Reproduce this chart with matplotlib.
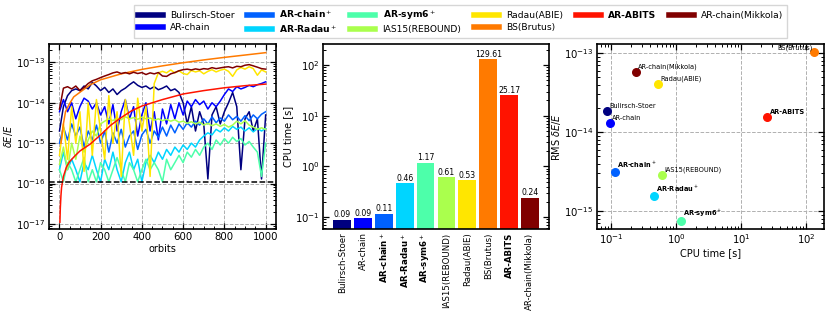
import numpy as np
import matplotlib
matplotlib.use("Agg")
import matplotlib.pyplot as plt

methods = ["Bulirsch-Stoer", "AR-chain", "AR-chain$^+$", "AR-Radau$^+$", "AR-sym6$^+$",
           "IAS15(REBOUND)", "Radau(ABIE)", "BS(Brutus)", "AR-ABITS", "AR-chain(Mikkola)"]
bold = [False, False, True, True, True, False, False, False, True, False]
cpu_time = [0.087, 0.094, 0.114, 0.46, 1.17, 0.61, 0.53, 129.61, 25.17, 0.24]
cpu_labels = ["0.09", "0.09", "0.11", "0.46", "1.17", "0.61", "0.53", "129.61", "25.17", "0.24"]
rms_err = [1.83e-14, 1.29e-14, 3.15e-15, 1.55e-15, 7.6e-16, 2.86e-15, 4.1e-14, 1.02e-13, 1.55e-14, 5.75e-14]

orbits = [1, 20, 40, 60, 80, 100, 120, 140, 160, 180, 200, 220, 240, 260, 280, 300, 320, 340, 360, 380,
          400, 420, 440, 460, 480, 500, 520, 540, 560, 580, 600, 620, 640, 660, 680, 700, 720, 740, 760,
          780, 800, 820, 840, 860, 880, 900, 920, 940, 960, 980, 1000]

err_bs = [2e-15, 8e-15, 1.5e-14, 2.0e-14, 2.2e-14, 2.0e-14, 2.6e-14, 2.2e-14, 3.2e-14, 2.6e-14, 2.0e-14,
          2.4e-14, 1.8e-14, 2.2e-14, 1.6e-14, 2.0e-14, 2.3e-14, 2.8e-14, 3.3e-14, 2.7e-14, 2.4e-14,
          2.6e-14, 2.2e-14, 2.5e-14, 2.1e-14, 2.3e-14, 2.6e-14, 2.0e-14, 2.2e-14, 1.8e-14, 1.0e-14,
          3e-15, 8e-15, 2e-15, 6e-15, 3e-15, 1.3e-16, 5e-15, 8e-15, 3e-15, 6e-15, 1e-14, 1.8e-14,
          8e-15, 2.2e-16, 4e-15, 6e-15, 2e-15, 4e-15, 1.3e-16, 5e-15]
err_arc = [6e-15, 1.2e-14, 6e-15, 1.0e-14, 4e-15, 8e-15, 1.3e-14, 1.1e-14, 7e-15, 1.0e-14, 5e-15,
           8e-15, 3e-15, 9e-15, 2e-15, 6e-15, 1.2e-14, 4e-15, 8e-15, 1.5e-15, 5e-15, 1e-14, 2e-15,
           6e-15, 1.2e-15, 7e-15, 3e-15, 9e-15, 4e-15, 1e-14, 5e-15, 1.1e-14, 8e-15, 1.2e-14, 9e-15,
           1.1e-14, 7e-15, 1e-14, 8e-15, 1.1e-14, 1.6e-14, 2.2e-14, 1.9e-14, 2.5e-14, 2.2e-14,
           2.4e-14, 2.7e-14, 2.5e-14, 2.8e-14, 3.0e-14, 3.3e-14]
err_arcp = [1e-15, 2.5e-15, 1.2e-15, 3e-15, 1.5e-15, 2.5e-15, 8e-16, 2e-15, 1.2e-15, 2.8e-15, 1e-15,
            2e-15, 6e-16, 1.8e-15, 1e-15, 2.2e-15, 8e-16, 1.5e-15, 2e-15, 7e-16, 1.6e-15, 2.2e-15,
            1e-15, 2e-15, 1.4e-15, 2.5e-15, 1.5e-15, 2.8e-15, 1.8e-15, 3e-15, 2.2e-15, 3.2e-15,
            2.5e-15, 3.5e-15, 2.8e-15, 4e-15, 3e-15, 4.5e-15, 3.2e-15, 4.2e-15, 3.5e-15, 5e-15,
            3.8e-15, 4.6e-15, 3.5e-15, 4.8e-15, 3.6e-15, 5e-15, 4e-15, 5.2e-15, 6e-15]
err_arr = [2.2e-16, 6e-16, 2.2e-16, 4e-16, 2.2e-16, 1.1e-16, 3.3e-16, 2.2e-16, 5e-16, 2.2e-16, 1.1e-16,
           4e-16, 2.2e-16, 6e-16, 2.2e-16, 1.1e-16, 3.3e-16, 6e-16, 2.2e-16, 4e-16, 1.1e-16, 3.3e-16,
           5e-16, 3.3e-16, 6e-16, 4e-16, 7e-16, 5e-16, 8e-16, 6e-16, 9e-16, 7e-16, 1e-15, 8e-16,
           1.2e-15, 1.5e-15, 1.8e-15, 1.6e-15, 2.2e-15, 1.9e-15, 2.4e-15, 2e-15, 2.6e-15, 2.2e-15,
           2.5e-15, 2e-15, 2.4e-15, 1.9e-15, 2.3e-15, 2e-15, 2.3e-15]
err_sym6 = [2.2e-16, 1.1e-16, 3.3e-16, 2.2e-16, 1.1e-16, 2.2e-16, 4.4e-16, 1.1e-16, 2.2e-16, 1.1e-16,
            3.3e-16, 2.2e-16, 1.1e-16, 2.2e-16, 4.4e-16, 2.2e-16, 1.1e-16, 3.3e-16, 2.2e-16, 1.1e-16,
            2.2e-16, 4e-16, 2.2e-16, 3.3e-16, 2.2e-16, 1.1e-16, 4e-16, 2.2e-16, 3.3e-16, 5e-16,
            3.3e-16, 6e-16, 4.5e-16, 7e-16, 5e-16, 8e-16, 1e-15, 7e-16, 1.2e-15, 9e-16, 1.3e-15,
            1e-15, 1.4e-15, 1.1e-15, 1.3e-15, 9e-16, 1.1e-15, 8e-16, 6e-16, 1.5e-16, 1e-15]
err_ias = [3e-16, 8e-16, 2.2e-16, 1e-15, 4e-16, 1.5e-15, 6e-16, 1.2e-15, 2e-15, 1.5e-15, 3e-15,
           3.5e-15, 4e-15, 3.6e-15, 4.2e-15, 3.8e-15, 4.5e-15, 4e-15, 4.3e-15, 3.9e-15, 4.4e-15, 4e-15,
           4.2e-15, 3.7e-15, 4e-15, 3.6e-15, 3.9e-15, 3.5e-15, 3.8e-15, 3.3e-15, 3.5e-15, 3.1e-15,
           3.4e-15, 3e-15, 3.3e-15, 2.8e-15, 3.1e-15, 2.7e-15, 3e-15, 2.6e-15, 2.9e-15, 2.5e-15,
           2.8e-15, 3.5e-15, 3e-15, 3.6e-15, 2.8e-15, 2.5e-15, 2.2e-15, 2.4e-15, 2.2e-15]
err_radau = [5e-16, 3e-15, 4e-16, 8e-15, 1e-15, 6e-15, 2e-16, 1e-14, 5e-16, 1.2e-14, 2e-15, 4e-16,
             1.5e-14, 1e-15, 6e-15, 1.5e-16, 1.2e-14, 3e-15, 5e-16, 1.3e-14, 2e-15, 8e-15, 1.5e-16,
             3e-14, 5.5e-14, 6e-14, 5.5e-14, 6.5e-14, 5.5e-14, 6.2e-14, 5.3e-14, 5e-14, 6.3e-14,
             5.8e-14, 6.2e-14, 5.2e-14, 6e-14, 6.6e-14, 5.8e-14, 6.4e-14, 6.8e-14, 6e-14, 4.5e-14,
             6.5e-14, 7.5e-14, 6.8e-14, 7.8e-14, 7e-14, 4.8e-14, 6.5e-14, 5.8e-14]
err_mik = [7e-15, 2.3e-14, 2.5e-14, 2.2e-14, 2.6e-14, 2.0e-14, 2.4e-14, 3e-14, 3.5e-14, 3.8e-14,
           4.2e-14, 4.6e-14, 5e-14, 5.5e-14, 5.8e-14, 5.3e-14, 5.6e-14, 5.2e-14, 5.7e-14, 5.3e-14,
           5.6e-14, 5e-14, 5.5e-14, 5.2e-14, 5.6e-14, 4.6e-14, 4.5e-14, 5.2e-14, 5.6e-14, 6.2e-14,
           6.6e-14, 6.8e-14, 6.5e-14, 6.9e-14, 6.6e-14, 7e-14, 6.8e-14, 7.4e-14, 7e-14, 7.3e-14,
           7.6e-14, 7.8e-14, 7.3e-14, 8e-14, 7.8e-14, 8.5e-14, 8.8e-14, 8.2e-14, 7.6e-14, 7e-14, 6.8e-14]

orbits_brutus = [8, 13, 20, 30, 47, 70, 111, 150, 200, 300, 400, 500, 600, 700, 800, 900, 1000]
err_brutus = [1e-15, 1.5e-15, 3e-15, 6e-15, 9e-15, 1.4e-14, 2e-14, 2.8e-14, 3.7e-14, 5.2e-14,
              6.7e-14, 8.2e-14, 9.8e-14, 1.15e-13, 1.33e-13, 1.52e-13, 1.74e-13]
orbits_abits = [3, 5, 8, 11, 20, 35, 50, 75, 100, 150, 200, 250, 300, 350, 400, 500, 600, 700, 800,
                900, 1000]
err_abits = [1.1e-17, 2.5e-17, 5e-17, 8e-17, 1.5e-16, 2.6e-16, 3.5e-16, 4.8e-16, 6.4e-16, 9.5e-16,
             1.6e-15, 2.8e-15, 4.3e-15, 6.3e-15, 8.3e-15, 1.2e-14, 1.65e-14, 2e-14, 2.35e-14,
             2.65e-14, 2.9e-14]
eps_level = 1.11e-16

series = [(orbits, err_bs), (orbits, err_arc), (orbits, err_arcp), (orbits, err_arr),
          (orbits, err_sym6), (orbits, err_ias), (orbits, err_radau), (orbits_brutus, err_brutus),
          (orbits_abits, err_abits), (orbits, err_mik)]

colors = [plt.cm.jet(i / 9) for i in range(10)]

plt.rcParams['font.family'] = 'DejaVu Sans'
plt.rcParams['mathtext.fontset'] = 'dejavusans'

fig = plt.figure(figsize=(8.3, 3.25), dpi=100)
ax1 = fig.add_axes([0.059, 0.2954, 0.2735, 0.5692])
ax2 = fig.add_axes([0.3892, 0.2954, 0.2723, 0.5692])
ax3 = fig.add_axes([0.7193, 0.2954, 0.2735, 0.5692])


def style(ax):
    for s in ax.spines.values():
        s.set_linewidth(1.2)
    ax.tick_params(which='both', direction='in', top=True, right=True, labelsize=7.3, pad=2.5)
    ax.tick_params(which='major', length=4, width=0.9)
    ax.tick_params(which='minor', length=2, width=0.7)
    ax.grid(True, which='major', linestyle='--', color='#b0b0b0', linewidth=0.7)
    ax.set_axisbelow(True)


# Left panel
handles = []
for i, (t, e) in enumerate(series):
    h, = ax1.plot(t, e, color=colors[i], lw=1.1)
    handles.append(h)
ax1.axhline(eps_level, color='black', ls='--', lw=1.1)
ax1.set_yscale('log')
ax1.set_ylim(7.5e-18, 2.85e-13)
ax1.set_xlim(-50, 1050)
ax1.minorticks_on()
ax1.set_xlabel('orbits', fontsize=7, labelpad=1)
ax1.set_ylabel(r'$\delta E/E$', fontsize=7, labelpad=0.5)
style(ax1)

# Middle panel
xpos = np.arange(len(methods))
bars = ax2.bar(xpos, cpu_time, width=0.85, color=colors)
ax2.set_yscale('log')
ax2.set_ylim(0.058, 260)
for b, lab in zip(bars, cpu_labels):
    ax2.text(b.get_x() + b.get_width() / 2, b.get_height() * 1.03, lab,
             ha='center', va='bottom', fontsize=5.6)
ax2.set_xticks(xpos)
ax2.set_xticklabels(methods, rotation=90, fontsize=6.2)
for lab, bf in zip(ax2.get_xticklabels(), bold):
    if bf:
        lab.set_fontweight('bold')
ax2.set_ylabel('CPU time [s]', fontsize=7, labelpad=1)
style(ax2)
ax2.tick_params(axis='x', which='both', length=0, labelsize=6.2)
ax2.grid(False)

# Right panel
for i in range(len(methods)):
    ax3.scatter(cpu_time[i], rms_err[i], s=30, color=colors[i], zorder=3)
    if methods[i] == 'BS(Brutus)':
        ax3.annotate(methods[i], (cpu_time[i], rms_err[i]), xytext=(-1, 1),
                     textcoords='offset points', ha='right', va='bottom', fontsize=4.8,
                     fontweight='bold' if bold[i] else 'normal')
    else:
        ax3.annotate(methods[i], (cpu_time[i], rms_err[i]), xytext=(1.5, 1.5),
                     textcoords='offset points', ha='left', va='bottom', fontsize=4.8,
                     fontweight='bold' if bold[i] else 'normal')
ax3.set_xscale('log')
ax3.set_yscale('log')
ax3.set_xlabel('CPU time [s]', fontsize=7, labelpad=1)
ax3.set_ylabel(r'RMS $\delta E/E$', fontsize=7, labelpad=1)
style(ax3)

leg = fig.legend(handles, methods, loc='upper center', bbox_to_anchor=(0.555, 0.985), ncol=6,
                 fontsize=6.6, handlelength=2.7, columnspacing=1.4, frameon=True, fancybox=False,
                 edgecolor='#cccccc', borderpad=0.4, labelspacing=0.3, borderaxespad=0.0)
for line in leg.get_lines():
    line.set_linewidth(4)
for txt, bf in zip(leg.get_texts(), bold):
    if bf:
        txt.set_fontweight('bold')

fig.savefig('out.png', dpi=100)
